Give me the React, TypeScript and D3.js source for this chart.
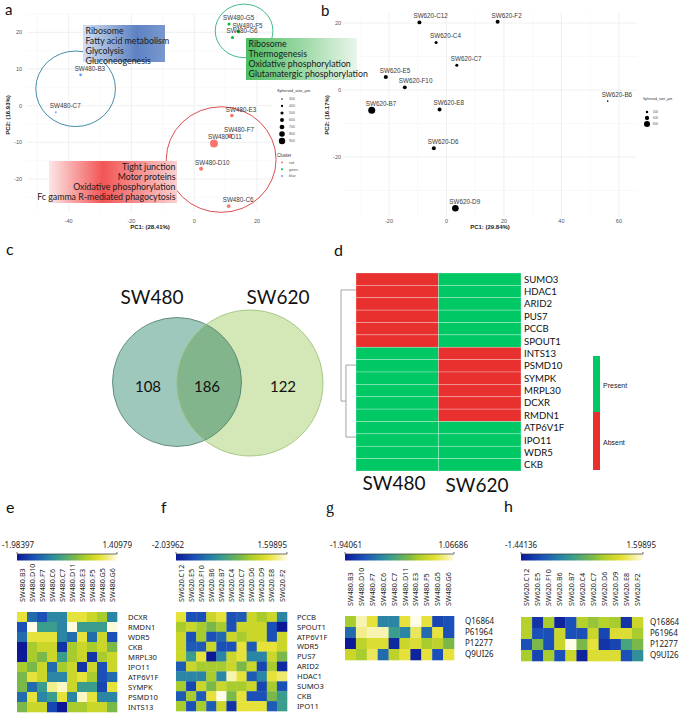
import React from 'react';
import * as d3 from 'd3';

const ARIAL = '"Liberation Sans", Arial, sans-serif';
const CALIBRI = 'Lato, "Open Sans", sans-serif';
const SEGOE = '"Noto Sans", "Open Sans", sans-serif';

// ---------- a: SW480 spheroid PCA ----------
const sw480Ids = ['SW480-G5', 'SW480-F5', 'SW480-G6', 'SW480-B3', 'SW480-C7', 'SW480-E3', 'SW480-F7', 'SW480-D11', 'SW480-D10', 'SW480-C6'];
const sw480PC1 = [11.1, 14.1, 12.2, -36.2, -44.1, 12.0, 11.4, 6.3, 2.2, 11.0];
const sw480PC2 = [22.3, 20.2, 18.6, 8.4, -1.8, -2.7, -8.2, -10.3, -17.2, -27.4];
const sw480Size = [420, 480, 420, 400, 300, 480, 560, 900, 520, 480];
const sw480Cluster = ['green', 'green', 'green', 'blue', 'blue', 'red', 'red', 'red', 'red', 'red'];
const clusterNames = ['red', 'green', 'blue'];
const clusterColors = ['#f8766d', '#00ba38', '#619cff'];
// cluster outlines (centre and radii in PC units)
const ringPC1 = [-37.8, 15.9, 8.6];
const ringPC2 = [4.6, 20.4, -14.7];
const ringR1 = [12.7, 9.2, 17.5];
const ringR2 = [10.3, 7.3, 14.4];
const ringColors = ['#2f7fa0', '#2db27a', '#d93a3c'];
const sizeLegendA = [300, 400, 500, 600, 700, 800, 900];

const pathwaysBlue = ['Ribosome', 'Fatty acid metabolism', 'Glycolysis', 'Gluconeogenesis'];
const pathwaysGreen = ['Ribosome', 'Thermogenesis', 'Oxidative phosphorylation', 'Glutamatergic phosphorylation'];
const pathwaysRed = ['Tight junction', 'Motor proteins', 'Oxidative phosphorylation', 'Fc gamma R-mediated phagocytosis'];

// ---------- b: SW620 spheroid PCA ----------
const sw620Ids = ['SW620-C12', 'SW620-F2', 'SW620-C4', 'SW620-C7', 'SW620-E5', 'SW620-F10', 'SW620-B7', 'SW620-E8', 'SW620-B6', 'SW620-D6', 'SW620-D9'];
const sw620PC1 = [-9.4, 17.8, -3.6, 3.6, -21.1, -14.5, -26.0, -2.4, 56.1, -4.4, 3.1];
const sw620PC2 = [20.2, 20.4, 14.2, 7.4, 3.9, 0.8, -6.0, -5.8, -3.3, -17.4, -35.3];
const sw620Size = [560, 560, 460, 460, 580, 560, 900, 560, 300, 560, 860];
const sizeLegendB = [400, 600, 800];

// ---------- c: Venn ----------
const vennSets = ['SW480', 'SW620'];
const vennCounts = [108, 186, 122]; // SW480 only, shared, SW620 only

// ---------- d: presence / absence ----------
const presenceGenes = ['SUMO3', 'HDAC1', 'ARID2', 'PUS7', 'PCCB', 'SPOUT1', 'INTS13', 'PSMD10', 'SYMPK', 'MRPL30', 'DCXR', 'RMDN1', 'ATP6V1F', 'IPO11', 'WDR5', 'CKB'];
const presentSW480 = [0, 0, 0, 0, 0, 0, 1, 1, 1, 1, 1, 1, 1, 1, 1, 1];
const presentSW620 = [1, 1, 1, 1, 1, 1, 0, 0, 0, 0, 0, 0, 1, 1, 1, 1];

// ---------- e-h: z-scored abundance ----------
const sw480Cols = ['SW480.B3', 'SW480.D10', 'SW480.F7', 'SW480.C6', 'SW480.C7', 'SW480.D11', 'SW480.E3', 'SW480.F5', 'SW480.G5', 'SW480.G6'];
const sw620Cols = ['SW620.C12', 'SW620.E5', 'SW620.F10', 'SW620.B6', 'SW620.B7', 'SW620.C4', 'SW620.C7', 'SW620.D6', 'SW620.D9', 'SW620.E8', 'SW620.F2'];

const eGenes = ['DCXR', 'RMDN1', 'WDR5', 'CKB', 'MRPL30', 'IPO11', 'ATP6V1F', 'SYMPK', 'PSMD10', 'INTS13'];
const eRange = [-1.98397, 1.40979];
const eValues = [
  [0.85, -1.13, -1.42, -0.85, -0.85, 0.85, 0.85, 0.56, 0.28, -0.85],
  [-1.42, 1.41, -0.57, -0.57, -0.85, 1.38, -0.57, -0.57, -0.57, 1.36],
  [-1.13, 0.85, 0.85, 0.85, -0.85, -1.13, 0.85, -1.13, 0.56, -1.42],
  [-1.98, 0.28, 0.56, 0.56, -1.70, 0.28, 0.56, 0.28, 0.56, 0.0],
  [-1.95, 0.28, 0.0, 0.56, -0.57, 0.28, 0.56, -1.70, 0.28, 0.56],
  [0.28, 0.0, 0.56, -1.13, 0.28, 0.56, -1.70, 0.56, -1.42, 0.56],
  [0.0, 0.85, 0.56, -0.85, -0.85, 0.56, 0.85, 0.28, -1.42, -1.13],
  [0.0, -1.13, -0.57, 1.13, 1.30, 0.56, -0.57, -0.57, -1.53, 0.85],
  [-1.13, 0.85, -0.85, -0.57, 0.85, -0.85, 1.30, 0.85, -0.85, -0.85],
  [0.0, 0.56, 0.56, -1.53, -1.98, 0.28, 0.28, 0.56, 0.56, 0.0],
];

const fGenes = ['PCCB', 'SPOUT1', 'ATP6V1F', 'WDR5', 'PUS7', 'ARID2', 'HDAC1', 'SUMO3', 'CKB', 'IPO11'];
const fRange = [-2.03962, 1.59895];
const fValues = [
  [0.99, -1.43, -1.43, 0.69, 0.99, -1.43, -1.31, 0.69, 0.39, 0.69, -0.83],
  [0.39, 0.69, 0.39, 0.08, 0.39, -1.43, 0.69, 0.69, 0.69, -1.43, -2.04],
  [0.69, -1.43, 0.39, -1.43, -1.13, 0.69, 0.39, 0.69, 0.69, -1.43, 0.69],
  [0.69, -1.31, -1.31, 0.69, -1.43, -1.43, 0.99, -1.31, 0.99, 0.99, 0.69],
  [0.69, -0.52, 0.99, -2.04, -0.83, 0.69, 0.99, -0.83, -0.83, 0.69, 0.08],
  [-1.31, 0.69, 0.39, 0.39, 0.39, 0.69, 0.08, 0.69, -1.55, 0.39, -1.86],
  [-0.83, -0.83, -0.83, 0.39, -0.83, 1.42, 0.99, -1.31, -0.83, 0.99, 1.18],
  [0.39, -1.55, 0.69, 0.08, 0.69, 0.39, 0.39, 0.69, -1.55, 0.39, -1.43],
  [-1.31, 0.39, -1.31, 0.99, 1.60, 0.08, 0.99, -1.43, -1.43, 0.08, -0.52],
  [0.39, -1.43, 0.39, -1.31, 0.69, -1.74, 0.99, 0.99, 0.99, -1.31, -0.52],
];

const proteins = ['Q16864', 'P61964', 'P12277', 'Q9UI26'];
const gRange = [-1.94061, 1.06686];
const gValues = [
  [0.07, 0.92, 0.57, -0.94, -0.94, 0.57, 1.07, 0.57, -1.54, -1.44],
  [-1.19, 0.82, 0.92, 0.92, -0.69, -0.94, 0.67, -1.19, 0.57, -1.44],
  [-1.94, 0.22, 0.47, 0.47, -1.79, 0.32, 0.47, 0.07, 0.22, -0.18],
  [0.32, 0.07, 0.67, -1.19, 0.22, 0.57, -1.84, 0.57, -1.44, 0.57],
];
const hRange = [-1.44136, 1.59895];
const hValues = [
  [0.69, -1.19, 0.59, -1.34, -0.93, 0.69, 0.49, 0.69, 0.59, -1.19, 0.84],
  [0.69, -0.93, -0.93, 0.84, -0.93, -0.93, 0.84, -1.03, 0.99, 0.99, 0.59],
  [-0.93, 0.33, -0.93, 0.84, 1.60, 0.33, 1.09, -1.19, -1.03, -0.07, 0.33],
  [0.59, -1.03, 0.59, -0.93, 0.84, -1.34, 0.99, 0.99, 0.99, -0.93, -0.32],
];

const heatStops = [0, 1 / 6, 2 / 6, 2.5 / 6, 3.5 / 6, 4 / 6, 4.5 / 6, 5 / 6, 5.5 / 6, 1];
const heatColors = ['#0c1896', '#1a50b8', '#2a86a4', '#3a9c8c', '#7ab84a', '#a8cc2e', '#cad62a', '#e6e23a', '#f2ee8c', '#fffce8'];

const heatScale = (range: number[]) =>
  d3.scaleLinear<string>()
    .domain(heatStops.map(t => range[0] + t * (range[1] - range[0])))
    .range(heatColors)
    .clamp(true);

// light ggplot-style grid
function Grid({ x, y, xMajor, xMinor, yMajor, yMinor }: any) {
  const [x0, x1] = x.range();
  const [y0, y1] = y.range();
  return (
    <g>
      {xMinor.map((v: number) => <line key={'xm' + v} x1={x(v)} x2={x(v)} y1={y0} y2={y1} stroke="#f3f3f3" strokeWidth={0.5} />)}
      {yMinor.map((v: number) => <line key={'ym' + v} x1={x0} x2={x1} y1={y(v)} y2={y(v)} stroke="#f3f3f3" strokeWidth={0.5} />)}
      {xMajor.map((v: number) => <line key={'xM' + v} x1={x(v)} x2={x(v)} y1={y0} y2={y1} stroke="#e6e6e6" strokeWidth={0.6} />)}
      {yMajor.map((v: number) => <line key={'yM' + v} x1={x0} x2={x1} y1={y(v)} y2={y(v)} stroke="#e6e6e6" strokeWidth={0.6} />)}
    </g>
  );
}

function PathwayBox({ x, y, w, h, lines, grad, anchor }: any) {
  const tx = anchor === 'end' ? x + w - 1.5 : x + 2.5;
  return (
    <g>
      <rect x={x} y={y} width={w} height={h} fill={`url(#${grad})`} />
      {lines.map((s: string, i: number) => (
        <text key={s + i} x={tx} y={y + 9 + i * 10} textAnchor={anchor} fontFamily={CALIBRI} fontSize={8.8} fill="#1a1a1a">{s}</text>
      ))}
    </g>
  );
}

function PanelA() {
  const x = d3.scaleLinear().domain([-53.3, 24.8]).range([27, 272]);
  const y = d3.scaleLinear().domain([-29, 25]).range([212, 14]);
  const r = d3.scaleLinear().domain([300, 900]).range([0.9, 4]);
  const col = d3.scaleOrdinal<string, string>().domain(clusterNames).range(clusterColors);
  return (
    <g>
      <Grid x={x} y={y} xMajor={[-40, -20, 0, 20]} xMinor={[-50, -30, -10, 10]} yMajor={[-20, -10, 0, 10, 20]} yMinor={[-25, -15, -5, 5, 15, 25]} />
      {[-40, -20, 0, 20].map(v => <text key={v} x={x(v)} y={223} textAnchor="middle" fontFamily={ARIAL} fontSize={5.5} fill="#555">{v}</text>)}
      {[-20, -10, 0, 10, 20].map(v => <text key={v} x={22} y={y(v) + 2} textAnchor="end" fontFamily={ARIAL} fontSize={5.5} fill="#555">{v}</text>)}
      <text x={150} y={229} textAnchor="middle" fontFamily={ARIAL} fontSize={6} fontWeight="bold" fill="#222">PC1: (28.41%)</text>
      <text transform={`translate(10,115) rotate(-90)`} textAnchor="middle" fontFamily={ARIAL} fontSize={6} fontWeight="bold" fill="#222">PC2: (16.93%)</text>
      {ringPC1.map((c, i) => (
        <ellipse key={i} cx={x(c)} cy={y(ringPC2[i])} rx={x(c + ringR1[i]) - x(c)} ry={y(ringPC2[i]) - y(ringPC2[i] + ringR2[i])}
          fill="none" stroke={ringColors[i]} strokeWidth={0.9} />
      ))}
      {sw480Ids.map((id, i) => (
        <g key={id}>
          <circle cx={x(sw480PC1[i])} cy={y(sw480PC2[i])} r={r(sw480Size[i])} fill={col(sw480Cluster[i])} />
          <text x={x(sw480PC1[i]) - 6} y={y(sw480PC2[i]) - 4} fontFamily={ARIAL} fontSize={6.3} fill="#3a3a3a">{id}</text>
        </g>
      ))}
      <PathwayBox x={83} y={25} w={82} h={37} lines={pathwaysBlue} grad="gBlue" anchor="start" />
      <PathwayBox x={246} y={38} w={111} h={42} lines={pathwaysGreen} grad="gGreen" anchor="start" />
      <PathwayBox x={49} y={161} w={128} h={42} lines={pathwaysRed} grad="gRed" anchor="end" />
      {/* legends */}
      <text x={277} y={92} fontFamily={ARIAL} fontSize={4} fill="#333">Spheroid_size_µm</text>
      {sizeLegendA.map((s, i) => (
        <g key={s}>
          <circle cx={282} cy={99 + i * 7} r={r(s) * 0.8} fill="#000" />
          <text x={289} y={100.3 + i * 7} fontFamily={ARIAL} fontSize={3.5} fill="#555">{s}</text>
        </g>
      ))}
      <text x={277} y={157} fontFamily={ARIAL} fontSize={4.5} fill="#333">Cluster</text>
      {clusterNames.map((c, i) => (
        <g key={c}>
          <circle cx={282} cy={162.5 + i * 6.8} r={1} fill={col(c)} />
          <text x={289} y={163.8 + i * 6.8} fontFamily={ARIAL} fontSize={3.5} fill="#555">{c}</text>
        </g>
      ))}
    </g>
  );
}

function PanelB() {
  const x = d3.scaleLinear().domain([-36, 66.3]).range([343, 637]);
  const y = d3.scaleLinear().domain([-37.9, 23]).range([217, 13]);
  const r = d3.scaleLinear().domain([300, 900]).range([0.8, 3.5]);
  return (
    <g>
      <Grid x={x} y={y} xMajor={[-20, 0, 20, 40, 60]} xMinor={[-30, -10, 10, 30, 50]} yMajor={[-20, 0, 20]} yMinor={[-30, -10, 10]} />
      {[-20, 0, 20, 40, 60].map(v => <text key={v} x={x(v)} y={223} textAnchor="middle" fontFamily={ARIAL} fontSize={5.5} fill="#555">{v}</text>)}
      {[-20, 0, 20].map(v => <text key={v} x={341} y={y(v) + 2} textAnchor="end" fontFamily={ARIAL} fontSize={5.5} fill="#555">{v}</text>)}
      <text x={490} y={229} textAnchor="middle" fontFamily={ARIAL} fontSize={6} fontWeight="bold" fill="#222">PC1: (29.84%)</text>
      <text transform={`translate(329,115) rotate(-90)`} textAnchor="middle" fontFamily={ARIAL} fontSize={6} fontWeight="bold" fill="#222">PC2: (16.17%)</text>
      {sw620Ids.map((id, i) => (
        <g key={id}>
          <circle cx={x(sw620PC1[i])} cy={y(sw620PC2[i])} r={r(sw620Size[i])} fill="#000" />
          <text x={x(sw620PC1[i]) - 6} y={y(sw620PC2[i]) - 4} fontFamily={ARIAL} fontSize={6.3} fill="#3a3a3a">{id}</text>
        </g>
      ))}
      <text x={643} y={100} fontFamily={ARIAL} fontSize={3.5} fill="#333">Spheroid_size_µm</text>
      {sizeLegendB.map((s, i) => (
        <g key={s}>
          <circle cx={647} cy={112 + i * 6} r={r(s)} fill="#000" />
          <text x={653} y={113.2 + i * 6} fontFamily={ARIAL} fontSize={3} fill="#555">{s}</text>
        </g>
      ))}
    </g>
  );
}

function PanelC() {
  const cx = d3.scaleLinear().domain([0, 1]).range([177, 250]);
  const radius = [64.5, 73];
  const cy = [382, 383];
  const labelX = [148, 207, 283];
  return (
    <g>
      <defs>
        <clipPath id="vennLeft"><circle cx={cx(0)} cy={cy[0]} r={radius[0]} /></clipPath>
      </defs>
      <circle cx={cx(0)} cy={cy[0]} r={radius[0]} fill="#9ec8bb" />
      <circle cx={cx(1)} cy={cy[1]} r={radius[1]} fill="#d3e8b6" />
      <circle cx={cx(1)} cy={cy[1]} r={radius[1]} fill="#83b58d" clipPath="url(#vennLeft)" />
      <circle cx={cx(0)} cy={cy[0]} r={radius[0]} fill="none" stroke="#4b7a68" strokeWidth={0.8} />
      <circle cx={cx(1)} cy={cy[1]} r={radius[1]} fill="none" stroke="#98bd72" strokeWidth={0.8} />
      {vennCounts.map((n, i) => (
        <text key={i} x={labelX[i]} y={392} textAnchor="middle" fontFamily={CALIBRI} fontSize={15} fill="#111">{n}</text>
      ))}
      <text x={152} y={304} textAnchor="middle" fontFamily={CALIBRI} fontSize={19} fill="#111">{vennSets[0]}</text>
      <text x={278} y={304} textAnchor="middle" fontFamily={CALIBRI} fontSize={19} fill="#111">{vennSets[1]}</text>
    </g>
  );
}

function PanelD() {
  const cols = ['SW480', 'SW620'];
  const x = d3.scaleBand().domain(cols).range([356, 521]);
  const y = d3.scaleBand().domain(presenceGenes).range([273, 471]);
  const rowPos = d3.scaleLinear().domain([0, presenceGenes.length]).range([273, 471]);
  const depth = d3.scaleLinear().domain([0, 1]).range([356, 341]);
  const fill = (v: number) => (v ? '#00c864' : '#e8302f');
  const data = [presentSW480, presentSW620];
  // merge heights (0..1) and row positions of the two gene clusters
  const top = 1.37, bottomA = 7.44, bottomB = 13.26, bottomMid = (bottomA + bottomB) / 2;
  const hBottom = 0.67;
  const seg = (x1: number, y1: number, x2: number, y2: number, k: string) =>
    <line key={k} x1={x1} y1={y1} x2={x2} y2={y2} stroke="#9a9a9a" strokeWidth={0.9} />;
  return (
    <g>
      {cols.map((c, j) => presenceGenes.map((g, i) => (
        <rect key={c + g} x={x(c)} y={y(g)} width={x.bandwidth()} height={y.bandwidth()} fill={fill(data[j][i])}
          stroke="#ffffff" strokeOpacity={0.45} strokeWidth={0.6} />
      )))}
      {presenceGenes.map(g => (
        <text key={g} x={524} y={(y(g) as number) + y.bandwidth() / 2 + 3.5} fontFamily={CALIBRI} fontSize={9.6} fill="#111">{g}</text>
      ))}
      {seg(depth(1), rowPos(top), depth(0), rowPos(top), 'a')}
      {seg(depth(1), rowPos(top), depth(1), rowPos(bottomMid), 'b')}
      {seg(depth(1), rowPos(bottomMid), depth(hBottom), rowPos(bottomMid), 'c')}
      {seg(depth(hBottom), rowPos(bottomA), depth(hBottom), rowPos(bottomB), 'd')}
      {seg(depth(hBottom), rowPos(bottomA), depth(0), rowPos(bottomA), 'e')}
      {seg(depth(hBottom), rowPos(bottomB), depth(0), rowPos(bottomB), 'f')}
      <text x={394} y={490} textAnchor="middle" fontFamily={CALIBRI} fontSize={19} fill="#111">SW480</text>
      <text x={477} y={492} textAnchor="middle" fontFamily={CALIBRI} fontSize={19} fill="#111">SW620</text>
      <rect x={593} y={356} width={7} height={56} fill="#00c864" />
      <rect x={593} y={412} width={7} height={58} fill="#e8302f" />
      <text x={603} y={388} fontFamily={ARIAL} fontSize={7} fill="#222">Present</text>
      <text x={603} y={445} fontFamily={ARIAL} fontSize={7} fill="#222">Absent</text>
    </g>
  );
}

function Heatmap({ id, cols, rows, values, range, box, minX, maxX, labelBottom, rowLabelX, rowFont }: any) {
  const color = heatScale(range);
  const x = d3.scaleBand().domain(cols).range([box[0], box[1]]);
  const y = d3.scaleBand().domain(rows).range([box[2], box[3]]);
  const barY = 554;
  return (
    <g>
      <defs>
        <linearGradient id={id} x1="0" x2="1" y1="0" y2="0">
          {heatStops.map((t, i) => <stop key={i} offset={t} stopColor={heatColors[i]} />)}
        </linearGradient>
      </defs>
      <text x={minX} y={548} fontFamily={SEGOE} fontSize={8} fill="#222">{range[0]}</text>
      <text x={maxX} y={548} textAnchor="end" fontFamily={SEGOE} fontSize={8} fill="#222">{range[1]}</text>
      <rect x={box[0]} y={barY} width={box[1] - box[0]} height={6.5} fill={`url(#${id})`} />
      <path d={`M${box[0]},${barY - 2}V${barY}H${box[1]}V${barY - 2}`} fill="none" stroke="#333" strokeWidth={0.7} />
      {cols.map((c: string) => (
        <text key={c} transform={`translate(${(x(c) as number) + x.bandwidth() / 2 + 2.6},${labelBottom}) rotate(-90)`}
          fontFamily={SEGOE} fontSize={7.2} fill="#222">{c}</text>
      ))}
      {rows.map((g: string, i: number) => cols.map((c: string, j: number) => (
        <rect key={g + c} x={x(c)} y={y(g)} width={x.bandwidth() + 0.3} height={y.bandwidth() + 0.3} fill={color(values[i][j])} />
      )))}
      {rows.map((g: string) => (
        <text key={g} x={rowLabelX} y={(y(g) as number) + y.bandwidth() / 2 + 2.8} fontFamily={SEGOE} fontSize={rowFont} fill="#222">{g}</text>
      ))}
    </g>
  );
}

export default function App() {
  return (
    <svg width={685} height={715} style={{ position: 'absolute', left: 0, top: 0, background: '#fff' }}>
      <defs>
        <linearGradient id="gBlue" x1="0" x2="1" y1="0" y2="0">
          <stop offset="0" stopColor="#d5dff0" />
          <stop offset="0.65" stopColor="#5d82c3" />
          <stop offset="1" stopColor="#7a98cf" />
        </linearGradient>
        <linearGradient id="gGreen" x1="0" x2="1" y1="0" y2="0">
          <stop offset="0" stopColor="#4fbe63" />
          <stop offset="0.5" stopColor="#9ad8a4" />
          <stop offset="1" stopColor="#e9f6ea" />
        </linearGradient>
        <linearGradient id="gRed" x1="0" x2="1" y1="0" y2="0">
          <stop offset="0" stopColor="#fde6e6" />
          <stop offset="0.42" stopColor="#f25555" />
          <stop offset="1" stopColor="#fbd0d0" />
        </linearGradient>
      </defs>
      <PanelB />
      <PanelA />
      <PanelC />
      <PanelD />
      <Heatmap id="hmE" cols={sw480Cols} rows={eGenes} values={eValues} range={eRange} box={[17, 117, 612, 712]} minX={2} maxX={132} labelBottom={602} rowLabelX={128} rowFont={7.6} />
      <Heatmap id="hmF" cols={sw620Cols} rows={fGenes} values={fValues} range={fRange} box={[176, 287, 612, 711]} minX={152} maxX={287} labelBottom={602} rowLabelX={297} rowFont={7.6} />
      <Heatmap id="hmG" cols={sw480Cols} rows={proteins} values={gValues} range={gRange} box={[345, 454, 616, 660]} minX={330} maxX={468} labelBottom={606} rowLabelX={465} rowFont={8} />
      <Heatmap id="hmH" cols={sw620Cols} rows={proteins} values={hValues} range={hRange} box={[521, 643, 617, 661]} minX={505} maxX={656} labelBottom={606} rowLabelX={650} rowFont={8} />
      {/* panel letters */}
      <text x={5} y={15} fontFamily={CALIBRI} fontSize={15} fill="#111">a</text>
      <text x={321} y={16} fontFamily={CALIBRI} fontSize={15} fill="#111">b</text>
      <text x={6} y={255} fontFamily={CALIBRI} fontSize={16} fill="#111">c</text>
      <text x={334} y={256} fontFamily={CALIBRI} fontSize={16} fill="#111">d</text>
      <text x={6} y={513} fontFamily={CALIBRI} fontSize={16} fill="#111">e</text>
      <text x={161} y={513} fontFamily={CALIBRI} fontSize={16} fill="#111">f</text>
      <text x={326} y={513} fontFamily={'"Liberation Serif", serif'} fontSize={16} fill="#111">g</text>
      <text x={504} y={512} fontFamily={CALIBRI} fontSize={16} fill="#111">h</text>
    </svg>
  );
}
